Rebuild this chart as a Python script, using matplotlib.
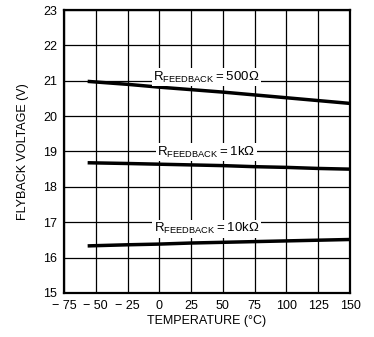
import matplotlib
matplotlib.use("Agg")
import matplotlib.pyplot as plt

plt.rcParams['font.family'] = ['Liberation Sans Narrow', 'Liberation Sans', 'DejaVu Sans']
plt.rcParams['mathtext.fontset'] = 'custom'
plt.rcParams['mathtext.rm'] = 'Liberation Sans'

# Flyback voltage vs temperature for three feedback resistors
temps = [-55, -25, 0, 25, 50, 75, 100, 125, 150]
v_500 = [20.98, 20.9, 20.82, 20.75, 20.68, 20.6, 20.52, 20.44, 20.36]
v_1k = [18.68, 18.66, 18.64, 18.62, 18.6, 18.57, 18.55, 18.52, 18.5]
v_10k = [16.33, 16.36, 16.38, 16.41, 16.43, 16.45, 16.47, 16.49, 16.51]

xticks = [-75, -50, -25, 0, 25, 50, 75, 100, 125, 150]
xtick_labels = ['\u2212 75', '\u2212 50', '\u2212 25', '0', '25', '50', '75', '100', '125', '150']
yticks = [15, 16, 17, 18, 19, 20, 21, 22, 23]

labels = [r'$\mathregular{R_{FEEDBACK} = 500\Omega}$',
          r'$\mathregular{R_{FEEDBACK} = 1k\Omega}$',
          r'$\mathregular{R_{FEEDBACK} = 10k\Omega}$']
label_pos = [(37, 21.1), (37, 18.98), (37, 16.82)]

fig = plt.figure(figsize=(3.74, 3.37), dpi=100)
ax = fig.add_axes([0.171, 0.131, 0.765, 0.839])

for v in (v_500, v_1k, v_10k):
    ax.plot(temps, v, color='black', linewidth=2.5, zorder=3)

for txt, (x, y) in zip(labels, label_pos):
    ax.text(x, y, txt, fontsize=9.5, ha='center', va='center', zorder=4,
            bbox=dict(facecolor='white', edgecolor='none', pad=1))

ax.set_xlim(-75, 150)
ax.set_ylim(15, 23)
ax.set_xticks(xticks)
ax.set_xticklabels(xtick_labels)
ax.set_yticks(yticks)
ax.tick_params(length=0, labelsize=9, pad=5)
ax.grid(True, color='black', linewidth=0.9)
for s in ax.spines.values():
    s.set_linewidth(1.6)

ax.set_xlabel('TEMPERATURE (\u00b0C)', fontsize=9, labelpad=2)
ax.set_ylabel('FLYBACK VOLTAGE (V)', fontsize=9, labelpad=10)

fig.savefig('out.png', dpi=100)
